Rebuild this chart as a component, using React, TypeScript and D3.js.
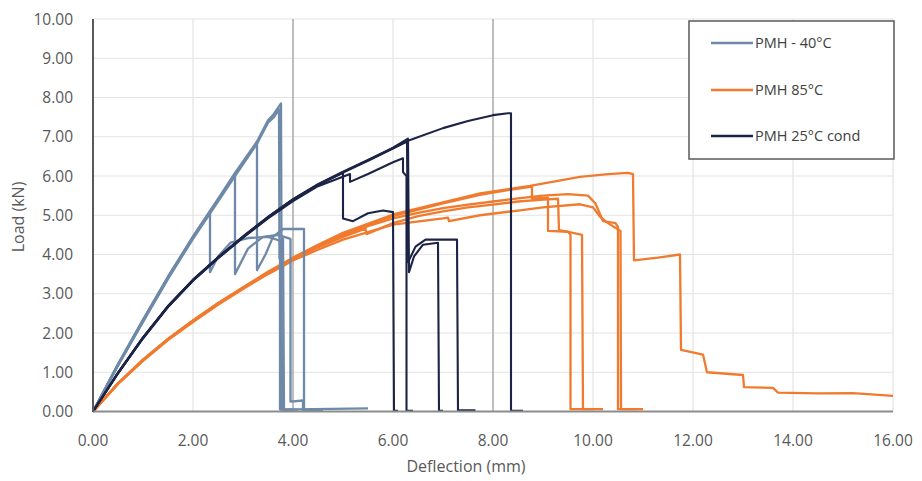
import React from "react";
import * as d3 from "d3";

type P = [number, number];

const xTicks = [0, 2, 4, 6, 8, 10, 12, 14, 16];
const yTicks = [0, 1, 2, 3, 4, 5, 6, 7, 8, 9, 10];

const seriesNames = ["PMH - 40°C", "PMH 85°C", "PMH 25°C cond"];
const seriesColors = ["#6F89A8", "#F07B2F", "#1C2446"];

// PMH -40°C specimens
const cold1: P[] = [[0,0],[0.5,1.18],[1,2.3],[1.5,3.4],[2,4.42],[2.34,5.1],[2.34,3.55],[2.5,3.95],[2.75,4.3],[3.1,4.42],[3.5,4.45],[3.74,4.35],[3.74,0.05],[4.4,0.06],[5.5,0.08]];
const cold2: P[] = [[0,0],[0.5,1.2],[1,2.32],[1.5,3.42],[2,4.45],[2.5,5.4],[2.84,6.05],[2.84,3.5],[3.1,4.15],[3.4,4.45],[3.7,4.5],[3.95,4.4],[3.95,0.25],[4.2,0.28],[4.2,0.03],[4.6,0.04]];
const cold3: P[] = [[0,0],[0.5,1.19],[1,2.31],[1.5,3.41],[2,4.43],[2.5,5.38],[2.84,6.03],[3.28,6.85],[3.28,3.6],[3.45,4.0],[3.6,4.45],[3.8,4.65],[4.22,4.65],[4.22,0.03],[4.5,0.04]];
const cold4: P[] = [[0,0],[0.5,1.21],[1,2.34],[1.5,3.44],[2,4.46],[2.5,5.42],[2.84,6.08],[3.28,6.88],[3.5,7.42],[3.6,7.55],[3.76,7.85],[3.78,0.05],[4.0,0.05]];
const cold5: P[] = [[0,0],[0.5,1.17],[1,2.28],[1.5,3.38],[2,4.4],[2.5,5.35],[2.84,6.0],[3.28,6.82],[3.5,7.36],[3.62,7.5],[3.72,7.7],[3.73,3.9],[3.76,4.3],[3.8,4.4],[3.82,0.05],[4.1,0.05]];

// PMH 85°C specimens
const hot1: P[] = [[0,0],[0.5,0.72],[1,1.32],[1.5,1.85],[2,2.32],[2.5,2.76],[3,3.16],[3.5,3.56],[4,3.92],[4.5,4.25],[5,4.55],[6,5.02],[7,5.33],[7.74,5.56],[8.74,5.75],[9.74,5.98],[10.3,6.05],[10.7,6.08],[10.8,6.05],[10.82,3.85],[11.3,3.92],[11.74,4.0],[11.76,1.57],[12.2,1.45],[12.28,1.0],[13.0,0.93],[13.02,0.62],[13.6,0.6],[13.7,0.48],[14.5,0.46],[15.2,0.47],[16,0.4]];
const hot2: P[] = [[0,0],[0.5,0.72],[1,1.32],[1.5,1.85],[2,2.32],[2.5,2.76],[3,3.16],[3.5,3.55],[4,3.91],[4.5,4.23],[5,4.52],[6,4.98],[7,5.3],[7.74,5.52],[8.3,5.64],[8.78,5.73],[8.78,5.42],[9.1,5.45],[9.1,4.6],[9.5,4.58],[9.55,4.5],[9.55,0.06],[10,0.06]];
const hot3: P[] = [[0,0],[0.5,0.71],[1,1.31],[1.5,1.84],[2,2.31],[2.5,2.75],[3,3.15],[3.5,3.54],[4,3.9],[4.5,4.2],[5,4.48],[5.5,4.72],[6,4.92],[6.5,5.06],[7,5.18],[7.5,5.27],[8,5.35],[8.5,5.43],[9,5.5],[9.5,5.54],[9.9,5.5],[10.05,5.3],[10.2,4.85],[10.45,4.8],[10.5,4.7],[10.5,0.06],[11.0,0.06]];
const hot4: P[] = [[0,0],[0.5,0.71],[1,1.3],[1.5,1.83],[2,2.3],[2.5,2.74],[3,3.14],[3.5,3.53],[4,3.88],[4.5,4.18],[5,4.45],[5.45,4.66],[5.47,4.52],[6,4.8],[6.5,4.98],[7,5.1],[7.5,5.2],[8,5.27],[8.5,5.35],[9,5.4],[9.3,5.42],[9.32,4.62],[9.6,4.55],[9.78,4.5],[9.8,0.06],[10.2,0.06]];
const hot5: P[] = [[0,0],[0.5,0.7],[1,1.29],[1.5,1.82],[2,2.28],[2.5,2.72],[3,3.12],[3.5,3.5],[4,3.85],[4.5,4.12],[5,4.38],[6,4.76],[7,4.92],[7.1,4.94],[7.12,4.85],[7.74,5.0],[8.5,5.12],[9,5.2],[9.74,5.28],[10.0,5.2],[10.15,4.95],[10.3,4.8],[10.55,4.6],[10.56,0.06],[10.9,0.06]];

// PMH 25°C cond specimens
const cond1: P[] = [[0,0],[0.5,0.98],[1,1.88],[1.5,2.68],[2,3.35],[2.5,3.92],[3,4.45],[3.5,4.95],[4,5.4],[4.5,5.78],[5,6.08],[5.0,4.92],[5.2,4.85],[5.5,5.05],[5.8,5.12],[6.0,5.08],[6.02,0.02],[6.1,0.02]];
const cond2: P[] = [[0,0],[0.5,0.97],[1,1.86],[1.5,2.66],[2,3.33],[2.5,3.9],[3,4.43],[3.5,4.92],[4,5.36],[4.5,5.74],[5.14,6.05],[5.14,5.85],[5.5,6.05],[6.0,6.35],[6.2,6.45],[6.2,6.1],[6.27,6.0],[6.27,0.02],[6.4,0.02]];
const cond3: P[] = [[0,0],[0.5,0.98],[1,1.88],[1.5,2.68],[2,3.35],[2.5,3.92],[3,4.45],[3.5,4.95],[4,5.4],[4.5,5.78],[5,6.1],[5.5,6.4],[6,6.72],[6.3,6.95],[6.32,3.55],[6.42,3.95],[6.6,4.25],[6.9,4.3],[6.92,0.02],[7.0,0.02]];
const cond4: P[] = [[0,0],[0.5,0.98],[1,1.87],[1.5,2.67],[2,3.34],[2.5,3.91],[3,4.44],[3.5,4.94],[4,5.39],[4.5,5.77],[5,6.09],[5.5,6.39],[6,6.7],[6.28,6.88],[6.3,3.8],[6.45,4.2],[6.65,4.38],[7.28,4.38],[7.3,0.03],[7.65,0.03]];
const cond5: P[] = [[0,0],[0.5,0.99],[1,1.89],[1.5,2.69],[2,3.36],[2.5,3.93],[3,4.46],[3.5,4.96],[4,5.41],[4.5,5.79],[5,6.11],[5.5,6.41],[6,6.71],[6.3,6.9],[7,7.22],[7.5,7.4],[8,7.55],[8.3,7.6],[8.36,7.6],[8.36,0.02],[8.6,0.02]];

const coldSpecimens = [cold1, cold2, cold3, cold4, cold5];
const hotSpecimens = [hot1, hot2, hot3, hot4, hot5];
const condSpecimens = [cond1, cond2, cond3, cond4, cond5];

const W = 922;
const H = 481;
const M = { left: 93, right: 893, top: 19, bottom: 411.5 };

export default function App() {
  const x = d3.scaleLinear().domain([0, 16]).range([M.left, M.right]);
  const y = d3.scaleLinear().domain([0, 10]).range([M.bottom, M.top]);
  const line = d3.line<P>().x((d) => x(d[0])).y((d) => y(d[1]));
  const font = "'Open Sans', 'Noto Sans', sans-serif";

  const groups: { data: P[][]; color: string; w: number }[] = [
    { data: hotSpecimens, color: seriesColors[1], w: 2.3 },
    { data: coldSpecimens, color: seriesColors[0], w: 2.3 },
    { data: condSpecimens, color: seriesColors[2], w: 2.1 },
  ];

  const legendY = [43, 90, 136];

  return (
    <svg width={W} height={H} style={{ position: "absolute", left: 0, top: 0, background: "#fff" }}>
      <rect x={0} y={0} width={W} height={H} fill="#fff" />
      {yTicks.map((t) => (
        <line key={"gy" + t} x1={M.left} x2={M.right} y1={y(t)} y2={y(t)} stroke="#e3e3e3" strokeWidth={1.2} />
      ))}
      {xTicks.map((t) =>
        t === 0 ? null : (
          <line
            key={"gx" + t}
            x1={x(t)}
            x2={x(t)}
            y1={M.top}
            y2={M.bottom}
            stroke={t === 4 || t === 8 ? "#a9a9a9" : "#e3e3e3"}
            strokeWidth={t === 4 || t === 8 ? 1.5 : 1.2}
          />
        )
      )}
      {groups.map((g, gi) =>
        g.data.map((d, i) => (
          <path key={gi + "-" + i} d={line(d) || ""} fill="none" stroke={g.color} strokeWidth={g.w} strokeLinejoin="round" />
        ))
      )}
      <line x1={M.left} x2={M.right} y1={M.bottom} y2={M.bottom} stroke="#8c8c8c" strokeWidth={2} />
      <line x1={M.left} x2={M.left} y1={M.top} y2={M.bottom} stroke="#595959" strokeWidth={2} />
      {yTicks.map((t) => (
        <text key={"ty" + t} x={73} y={y(t) + 5.5} textAnchor="end" fontFamily={font} fontSize={15.5} fill="#595959">
          {t.toFixed(2)}
        </text>
      ))}
      {xTicks.map((t) => (
        <text key={"tx" + t} x={x(t)} y={446} textAnchor="middle" fontFamily={font} fontSize={15.5} fill="#595959">
          {t.toFixed(2)}
        </text>
      ))}
      <text x={466} y={472} textAnchor="middle" fontFamily={font} fontSize={16} fill="#595959">
        Deflection (mm)
      </text>
      <text transform="translate(24,217) rotate(-90)" textAnchor="middle" fontFamily={font} fontSize={16} fill="#595959">
        Load (kN)
      </text>
      <rect x={689} y={21} width={205} height={138} fill="#fff" stroke="#595959" strokeWidth={1.5} />
      {seriesNames.map((n, i) => (
        <g key={n}>
          <line x1={711} x2={753} y1={legendY[i]} y2={legendY[i]} stroke={seriesColors[i]} strokeWidth={2.5} />
          <text x={755} y={legendY[i] + 5} fontFamily={font} fontSize={14.5} fill="#404040">
            {n}
          </text>
        </g>
      ))}
    </svg>
  );
}
